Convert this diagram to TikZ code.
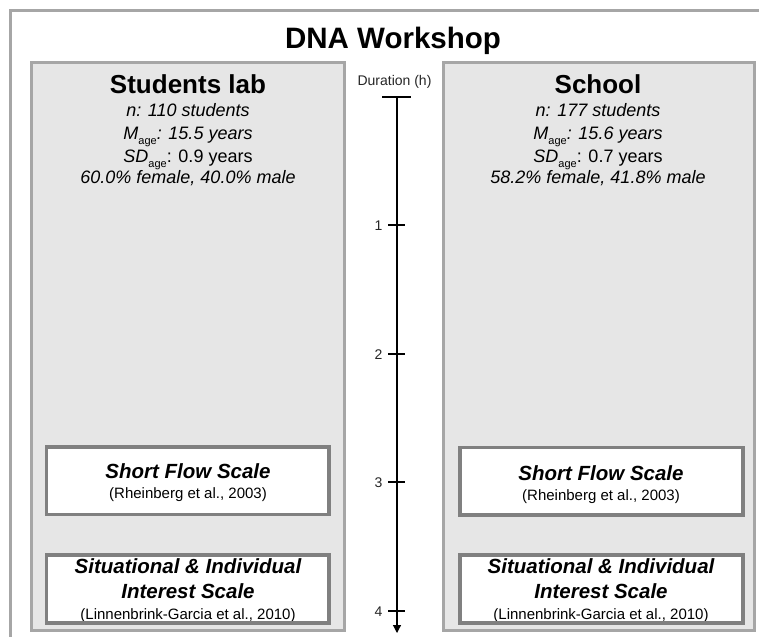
\documentclass[tikz,border=0pt]{standalone}
\usepackage{fontspec}
\setmainfont{Liberation Sans}
\usetikzlibrary{arrows.meta}
\definecolor{panelfill}{HTML}{E6E6E6}
\definecolor{panelline}{HTML}{A6A6A6}
\definecolor{boxline}{HTML}{808080}
\newcommand{\fs}[1]{\fontsize{#1}{#1}\selectfont}
\newcommand{\agesub}{\raisebox{-0.3em}{\upshape\fs{11}age}}
\tikzset{
  panel/.style={draw=panelline, fill=panelfill, line width=3pt, rectangle, inner sep=0pt, outer sep=0pt},
  scalebox/.style={draw=boxline, fill=white, line width=3.5pt, rectangle, inner sep=0pt, outer sep=0pt},
  txt/.style={anchor=base, inner sep=0pt, text=black},
  ticklbl/.style={anchor=base east, inner sep=0pt, font=\fs{14}, text=black!85},
}
\begin{document}
\begin{tikzpicture}[x=1pt,y=-1pt]
\useasboundingbox (0,0) rectangle (759,637);
\fill[white] (0,0) rectangle (759,637);
% outer frame (only top and left visible)
\coordinate (frTR) at (759,10.5);
\coordinate (frTL) at (10.5,10.5);
\coordinate (frBL) at (10.5,637);
\draw[panelline, line width=3pt] (frTR) -- (frTL) -- (frBL);
\node[txt, font=\bfseries\fs{29.5}] (title) at (393,48) {DNA Workshop};

% panels
\node[panel, minimum width=312.5pt, minimum height=568.5pt] (lpanel) at (187.75,346.25) {};
\node[panel, minimum width=311pt, minimum height=568.5pt] (rpanel) at (598.5,346.25) {};

% left panel texts
\node[txt, font=\bfseries\fs{26}] (lhead) at (188,93) {Students lab};
\node[txt, font=\itshape\fs{18}] (ln) at (188,116) {n: 110 students};
\node[txt, font=\itshape\fs{18}] (lm) at (188,139) {M\agesub: 15.5 years};
\node[txt, font=\fs{18}] (lsd) at (188,162) {\textit{SD}\agesub: 0.9 years};
\node[txt, font=\itshape\fs{18}] (lg) at (188,183) {60.0\% female, 40.0\% male};

% right panel texts
\node[txt, font=\bfseries\fs{26}] (rhead) at (598,93) {School};
\node[txt, font=\itshape\fs{18}] (rn) at (598,116) {n: 177 students};
\node[txt, font=\itshape\fs{18}] (rm) at (598,139) {M\agesub: 15.6 years};
\node[txt, font=\fs{18}] (rsd) at (598,162) {\textit{SD}\agesub: 0.7 years};
\node[txt, font=\itshape\fs{18}] (rg) at (598,183) {58.2\% female, 41.8\% male};

% inner boxes left
\node[scalebox, minimum width=282.5pt, minimum height=67.5pt] (lflow) at (187.75,480.75) {};
\node[scalebox, minimum width=282.5pt, minimum height=68pt] (lint) at (187.75,589) {};
% inner boxes right
\node[scalebox, minimum width=283pt, minimum height=67.5pt] (rflow) at (601.5,481) {};
\node[scalebox, minimum width=283pt, minimum height=68pt] (rint) at (601.5,589) {};

% box texts left
\node[txt, font=\bfseries\itshape\fs{20.5}] (lflowt) at (188,478) {Short Flow Scale};
\node[txt, font=\fs{15}] (lflowc) at (188,498) {(Rheinberg et al., 2003)};
\node[txt, font=\bfseries\itshape\fs{20.5}] (lintt1) at (188,573) {Situational \& Individual};
\node[txt, font=\bfseries\itshape\fs{20.5}] (lintt2) at (188,598) {Interest Scale};
\node[txt, font=\fs{15}] (lintc) at (188,619.5) {(Linnenbrink-Garcia et al., 2010)};
% box texts right
\node[txt, font=\bfseries\itshape\fs{20.5}] (rflowt) at (601,480) {Short Flow Scale};
\node[txt, font=\fs{15}] (rflowc) at (601,500) {(Rheinberg et al., 2003)};
\node[txt, font=\bfseries\itshape\fs{20.5}] (rintt1) at (601,573) {Situational \& Individual};
\node[txt, font=\bfseries\itshape\fs{20.5}] (rintt2) at (601,598) {Interest Scale};
\node[txt, font=\fs{15}] (rintc) at (601,619.5) {(Linnenbrink-Garcia et al., 2010)};
% redraw box bottom borders over overflowing text
\draw[boxline, line width=3.5pt] (lint.south west) -- (lint.south east);
\draw[boxline, line width=3.5pt] (rint.south west) -- (rint.south east);

% time axis
\node[txt, font=\fs{14}, text=black!85] (dur) at (394.5,85) {Duration (h)};
\coordinate (axtop) at (397,97);
\coordinate (axbot) at (397,633);
\coordinate (barL) at (382,97);
\coordinate (barR) at (411,97);
\draw[line width=1.2pt] (barL) -- (barR);
\draw[line width=1.2pt, -{Triangle[width=8pt,length=8pt]}] (axtop) -- (axbot);
\foreach \v/\y in {1/225,2/354,3/482,4/611}{
  \coordinate (t\v L) at (388,\y);
  \coordinate (t\v R) at (405,\y);
  \draw[line width=1.2pt] (t\v L) -- (t\v R);
  \node[ticklbl] (lbl\v) at (382.5,\y+5) {\v};
}
\end{tikzpicture}
\end{document}
